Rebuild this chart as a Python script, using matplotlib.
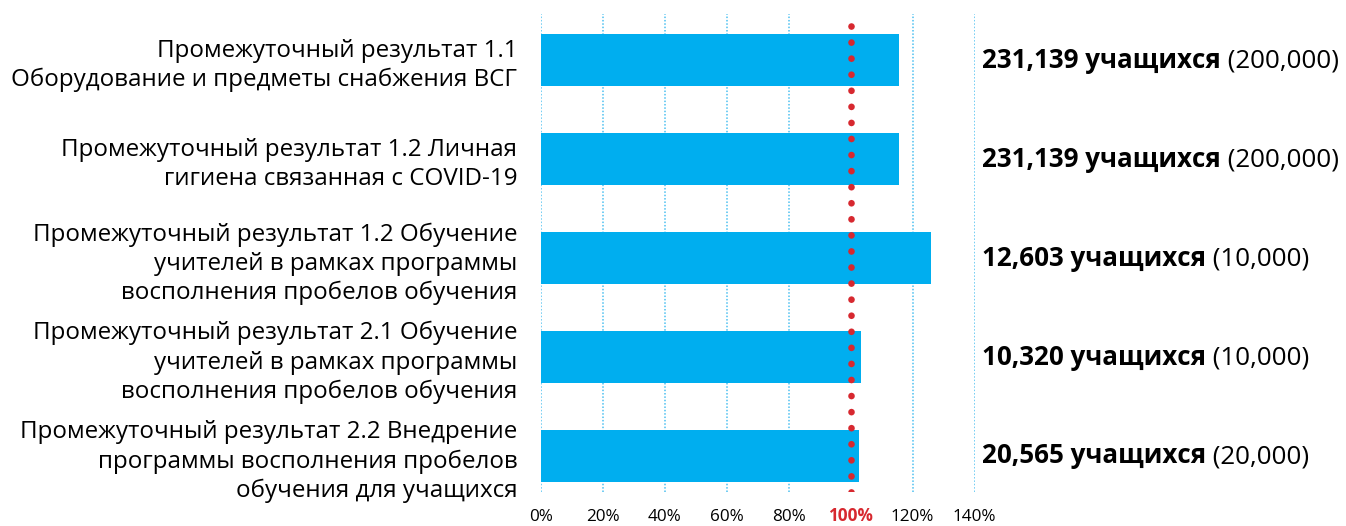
import matplotlib
matplotlib.use("Agg")
import matplotlib.pyplot as plt
from matplotlib.transforms import blended_transform_factory

plt.rcParams['font.family'] = ['Open Sans', 'DejaVu Sans']

# данные
categories = [
    "Промежуточный результат 1.1\nОборудование и предметы снабжения ВСГ",
    "Промежуточный результат 1.2 Личная\nгигиена связанная с COVID-19",
    "Промежуточный результат 1.2 Обучение\nучителей в рамках программы\nвосполнения пробелов обучения",
    "Промежуточный результат 2.1 Обучение\nучителей в рамках программы\nвосполнения пробелов обучения",
    "Промежуточный результат 2.2 Внедрение\nпрограммы восполнения пробелов\nобучения для учащихся",
]
actual = [231139, 231139, 12603, 10320, 20565]
target = [200000, 200000, 10000, 10000, 20000]
unit = "учащихся"
x_ticks = [0, 20, 40, 60, 80, 100, 120, 140]
target_pct = 100

pct = [a / t * 100 for a, t in zip(actual, target)]
ypos = list(range(len(categories)))

fig = plt.figure(figsize=(13.46, 5.26), dpi=100)
ax = fig.add_axes([0.402, 0.0646, 0.322, 0.9087])

ax.barh(ypos, pct, height=0.525, color='#00aeef', zorder=2)

# пунктирная сетка
for xt in x_ticks:
    if xt == target_pct:
        continue
    ax.axvline(xt, color='#4cc0f0', lw=1.1, ls=(0, (1, 1.2)), zorder=1)

# линия цели 100%
ax.axvline(target_pct, color='#d7282f', lw=4.8, ls=(0, (0.01, 2.4)),
           dash_capstyle='round', zorder=3)

ax.set_xlim(0, 140)
ax.set_ylim(4.364, -0.465)

ax.set_xticks(x_ticks)
ax.set_xticklabels([f"{x}%" for x in x_ticks], fontsize=12.3)
for lbl, xt in zip(ax.get_xticklabels(), x_ticks):
    lbl.set_va('baseline')
    if xt == target_pct:
        lbl.set_color('#d7282f')
        lbl.set_fontweight('bold')
ax.tick_params(axis='x', length=0, pad=21)

ax.set_yticks(ypos)
ax.set_yticklabels(categories, fontsize=17.4, linespacing=1.28)
ax.tick_params(axis='y', length=0, pad=17)

for s in ax.spines.values():
    s.set_visible(False)

# подписи значений справа
tr = blended_transform_factory(fig.transFigure, ax.transData)
for y, a, t in zip(ypos, actual, target):
    bold = ax.text(0.7296, y, f"{a:,} {unit}", transform=tr, fontsize=18.7,
                   fontweight='bold', va='center', ha='left')
    ax.annotate(f" ({t:,})", xy=(1, 0), xycoords=bold, fontsize=18.7,
                va='bottom', ha='left')

fig.savefig("out.png", dpi=100)
